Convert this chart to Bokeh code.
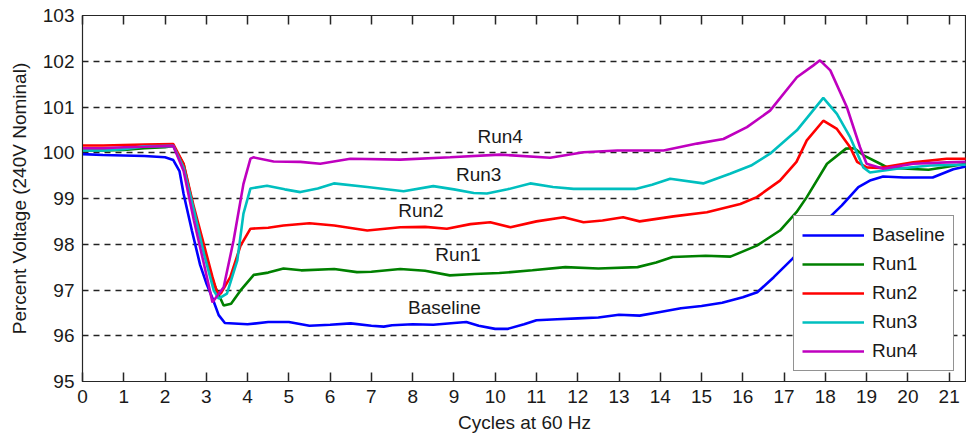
from bokeh.plotting import figure
from bokeh.models import LinearAxis, Range1d, Legend, LegendItem, FixedTicker
from bokeh.embed import file_html
from bokeh.resources import INLINE
from bokeh.core.properties import value

# ---------------- data ----------------
cycles_baseline = [0, 0.5, 1, 1.5, 2.0, 2.2, 2.35, 2.45, 2.65, 2.85, 3.0, 3.15, 3.3, 3.45,
                   4, 4.5, 5, 5.5, 6, 6.5, 7, 7.3, 7.5, 8, 8.5, 9, 9.3, 9.6, 10, 10.3, 10.7,
                   11, 11.5, 12, 12.5, 13, 13.5, 14, 14.5, 15, 15.5, 16, 16.35, 16.75, 17.2,
                   17.6, 18.0, 18.4, 18.8, 19.1, 19.4, 19.9, 20.6, 21.1, 21.4]
volts_baseline = [99.97, 99.95, 99.94, 99.93, 99.9, 99.84, 99.6, 99.1, 98.3, 97.55, 97.15, 96.82,
                  96.45, 96.28, 96.25, 96.3, 96.3, 96.22, 96.24, 96.27, 96.22, 96.2, 96.23, 96.25,
                  96.24, 96.28, 96.3, 96.22, 96.15, 96.15, 96.25, 96.34, 96.36, 96.38, 96.4, 96.46,
                  96.44, 96.52, 96.6, 96.65, 96.72, 96.84, 96.95, 97.28, 97.68, 98.05, 98.5, 98.85,
                  99.25, 99.4, 99.48, 99.46, 99.46, 99.64, 99.7]

cycles_run1 = [0, 0.5, 1, 1.5, 2.0, 2.2, 2.45, 2.7, 2.98, 3.2, 3.42, 3.6, 3.83, 4.15, 4.5, 4.87,
               5.3, 6.1, 6.65, 7.0, 7.7, 8.3, 8.9, 9.5, 10.1, 10.9, 11.7, 12.5, 13.45, 13.9, 14.3,
               15.1, 15.7, 16.34, 16.9, 17.3, 17.55, 18.04, 18.5, 18.7, 18.95, 19.33, 19.5, 20,
               20.5, 21, 21.4]
volts_run1 = [100.05, 100.05, 100.06, 100.1, 100.12, 100.15, 99.75, 98.75, 97.72, 97.1, 96.66,
              96.7, 96.99, 97.33, 97.38, 97.47, 97.43, 97.46, 97.39, 97.4, 97.46, 97.42, 97.32,
              97.35, 97.37, 97.43, 97.5, 97.47, 97.5, 97.6, 97.72, 97.75, 97.73, 97.97, 98.3,
              98.7, 99.03, 99.76, 100.09, 100.1, 99.93, 99.76, 99.68, 99.65, 99.63, 99.7, 99.76]

cycles_run2 = [0, 0.5, 1, 1.5, 2.2, 2.45, 2.7, 2.94, 3.15, 3.26, 3.35, 3.58, 3.83, 4.07, 4.5,
               4.87, 5.5, 6.1, 6.9, 7.7, 8.3, 8.83, 9.4, 9.88, 10.37, 11.0, 11.66, 12.14, 12.6,
               13.1, 13.5, 14.32, 15.13, 15.94, 16.34, 16.9, 17.3, 17.55, 17.95, 18.28, 18.6,
               18.77, 19.0, 19.33, 20.13, 20.94, 21.4]
volts_run2 = [100.16, 100.16, 100.17, 100.18, 100.19, 99.76, 98.81, 98.0, 97.28, 96.95, 96.92,
              97.28, 97.97, 98.34, 98.36, 98.41, 98.46, 98.41, 98.3, 98.37, 98.38, 98.34, 98.44,
              98.48, 98.37, 98.5, 98.59, 98.48, 98.52, 98.59, 98.5, 98.61, 98.7, 98.88, 99.03,
              99.39, 99.8, 100.27, 100.7, 100.52, 100.12, 99.8, 99.68, 99.67, 99.79, 99.87, 99.87]

cycles_run3 = [0, 0.5, 1, 1.5, 2.2, 2.45, 2.7, 2.94, 3.18, 3.3, 3.5, 3.75, 3.9, 4.07, 4.47, 4.9,
               5.28, 5.7, 6.09, 6.9, 7.78, 8.5, 9.0, 9.48, 9.8, 10.3, 10.85, 11.4, 11.9, 12.96,
               13.4, 13.8, 14.24, 15.04, 15.69, 16.2, 16.66, 17.31, 17.95, 18.28, 18.6, 18.92,
               19.08, 19.73, 20.54, 21.4]
volts_run3 = [100.05, 100.05, 100.08, 100.14, 100.15, 99.67, 98.74, 97.8, 96.99, 96.81, 96.92,
              97.64, 98.67, 99.22, 99.28, 99.2, 99.14, 99.22, 99.33, 99.25, 99.16, 99.27, 99.2,
              99.12, 99.11, 99.2, 99.33, 99.25, 99.21, 99.21, 99.21, 99.3, 99.43, 99.33, 99.54,
              99.72, 99.98, 100.49, 101.2, 100.85, 100.34, 99.68, 99.57, 99.65, 99.72, 99.74]

cycles_run4 = [0, 0.5, 1, 1.5, 2.2, 2.45, 2.7, 2.94, 3.15, 3.42, 3.66, 3.9, 4.07, 4.14, 4.63,
               5.28, 5.76, 6.49, 7.7, 8.91, 10.12, 11.33, 12.14, 12.96, 14.08, 14.89, 15.53,
               16.1, 16.66, 17.31, 17.71, 17.87, 18.12, 18.52, 18.84, 19.0, 19.4, 20.13, 20.94,
               21.4]
volts_run4 = [100.1, 100.1, 100.12, 100.13, 100.15, 99.6, 98.52, 97.58, 96.73, 97.06, 98.08,
              99.32, 99.87, 99.9, 99.81, 99.8, 99.76, 99.87, 99.85, 99.9, 99.96, 99.89, 100.01,
              100.05, 100.05, 100.2, 100.3, 100.56, 100.92, 101.65, 101.91, 102.02, 101.8,
              101.0, 100.12, 99.76, 99.65, 99.76, 99.79, 99.8]

series_names = ["Baseline", "Run1", "Run2", "Run3", "Run4"]
series_colors = ["#0000FF", "#008000", "#FF0000", "#00BFBF", "#BF00BF"]

x_ticks = list(range(0, 22))
y_ticks = list(range(95, 104))

# in-plot annotation labels (data coordinates)
note_texts = ["Run4", "Run3", "Run2", "Run1", "Baseline"]
note_x = [10.12, 9.6, 8.2, 9.1, 8.77]
note_y = [100.36, 99.52, 98.74, 97.78, 96.62]

x_label = "Cycles at 60 Hz"
y_label = "Percent Voltage (240V Nominal)"

# ---------------- figure ----------------
FONT = "Liberation Sans"
TXT = "#1a1a1a"
FS = "19px"

p = figure(width=966, height=437, output_backend="svg", toolbar_location=None,
           x_range=Range1d(0, 21.42), y_range=Range1d(95, 103),
           min_border_left=82, min_border_right=0, min_border_top=15, min_border_bottom=56,
           background_fill_color="white", border_fill_color="white")
p.outline_line_color = "#262626"
p.outline_line_width = 1.2

xs_all = [cycles_baseline, cycles_run1, cycles_run2, cycles_run3, cycles_run4]
ys_all = [volts_baseline, volts_run1, volts_run2, volts_run3, volts_run4]
renderers = []
for xs, ys, c in zip(xs_all, ys_all, series_colors):
    r = p.line(xs, ys, line_color=c, line_width=2.6)
    renderers.append(r)

p.text(x=note_x, y=note_y, text=note_texts, text_align="center", text_baseline="middle",
       text_font=value(FONT), text_font_size=FS, text_color=TXT)

# axes
xa = p.xaxis[0]
xa.ticker = FixedTicker(ticks=x_ticks)
xa.major_tick_in = 9
xa.major_tick_out = 0
xa.minor_tick_line_color = None
xa.major_label_standoff = 8
xa.major_label_text_font = FONT
xa.major_label_text_font_size = FS
xa.major_label_text_color = TXT
xa.axis_label = x_label
xa.axis_label_text_font = FONT
xa.axis_label_text_font_size = FS
xa.axis_label_text_font_style = "normal"
xa.axis_label_text_color = TXT
xa.axis_label_standoff = 6
xa.axis_line_color = "#262626"
xa.major_tick_line_color = "#262626"
xa.major_tick_line_width = 1.5

ya = p.yaxis[0]
ya.ticker = FixedTicker(ticks=y_ticks)
ya.major_tick_in = 0
ya.major_tick_out = 0
ya.minor_tick_line_color = None
ya.major_label_standoff = 8
ya.major_label_text_font = FONT
ya.major_label_text_font_size = FS
ya.major_label_text_color = TXT
ya.axis_label = y_label
ya.axis_label_text_font = FONT
ya.axis_label_text_font_size = FS
ya.axis_label_text_font_style = "normal"
ya.axis_label_text_color = TXT
ya.axis_label_standoff = 10
ya.axis_line_color = "#262626"

# top frame ticks (no labels)
top = LinearAxis(ticker=FixedTicker(ticks=x_ticks), major_tick_in=9, major_tick_out=0,
                 minor_tick_line_color=None, major_label_text_color=None,
                 major_label_overrides={t: "" for t in x_ticks},
                 major_label_standoff=0, axis_line_color="#262626",
                 major_tick_line_color="#262626", major_tick_line_width=1.5)
p.add_layout(top, "above")

# grid
p.xgrid.grid_line_color = None
p.ygrid.ticker = FixedTicker(ticks=y_ticks)
p.ygrid.grid_line_color = "#222222"
p.ygrid.grid_line_width = 1.4
p.ygrid.grid_line_dash = "6 5"

# legend
items = [LegendItem(label=n, renderers=[r]) for n, r in zip(series_names, renderers)]
legend = Legend(items=items, location=(711, 10), orientation="vertical",
                border_line_color="#262626", border_line_width=1.2,
                background_fill_color="white", background_fill_alpha=1.0,
                padding=8, spacing=7, margin=0, glyph_width=62, glyph_height=22,
                label_height=22, label_standoff=8,
                label_text_font=FONT, label_text_font_size=FS, label_text_color=TXT)
p.add_layout(legend, "center")

open("out.html", "w").write(file_html(p, INLINE))
